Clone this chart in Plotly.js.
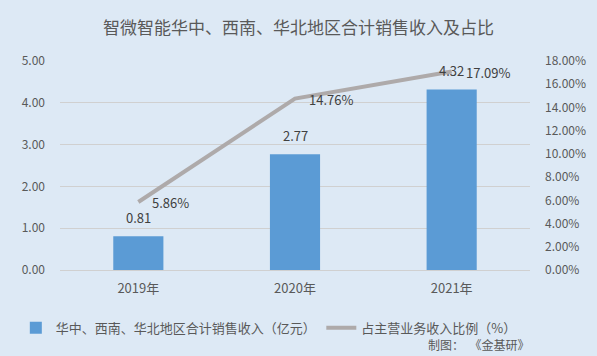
<!DOCTYPE html>
<html><head><meta charset="utf-8">
<script src="https://cdn.plot.ly/plotly-3.0.1.min.js"></script>
<style>html,body{margin:0;padding:0;background:#dde9f5;}#c{width:597px;height:356px;}</style>
</head><body><div id="c"></div>
<script>
const categories = ['2019年', '2020年', '2021年'];
const revenue = [0.81, 2.77, 4.32];
const ratio = [5.86, 14.76, 17.09];
const revenueLabels = ['0.81', '2.77', '4.32'];
const ratioLabels = ['5.86%', '14.76%', '17.09%'];
const leftTicks = [0, 1, 2, 3, 4, 5];
const rightTicks = [0, 2, 4, 6, 8, 10, 12, 14, 16, 18];

const FONT = '"Noto Sans CJK SC", "Noto Sans", sans-serif';
const bar = {
  type: 'bar', x: categories, y: revenue, name: '华中、西南、华北地区合计销售收入（亿元）',
  marker: {color: '#5b9bd5'}, width: 0.32, legend: 'legend',
  text: revenueLabels, textposition: 'none', hoverinfo: 'skip'
};
const line = {
  type: 'scatter', mode: 'lines', x: categories, y: ratio, yaxis: 'y2', legend: 'legend2',
  name: '占主营业务收入比例（%）', line: {color: '#aeaaaa', width: 4}, hoverinfo: 'skip'
};
const annotations = [];
categories.forEach((c, i) => {
  annotations.push({x: c, y: revenue[i], xref: 'x', yref: 'y', text: revenueLabels[i],
    showarrow: false, yanchor: 'bottom', yshift: 7, font: {size: 13, color: '#404040', family: FONT}});
  annotations.push({x: c, y: ratio[i], xref: 'x', yref: 'y2', text: ratioLabels[i],
    showarrow: false, xanchor: 'left', xshift: 12, yshift: -1, font: {size: 13, color: '#404040', family: FONT}});
});
annotations.push({xref: 'paper', yref: 'paper', x: 1.0, y: -0.355, xanchor: 'left', yanchor: 'middle', xshift: -104,
  text: '制图：  《金基研》', showarrow: false, font: {size: 12, color: '#595959', family: FONT}});

const legendBase = {orientation: 'h', yanchor: 'middle', y: -0.277, xanchor: 'left',
  font: {size: 13, color: '#595959', family: FONT}, bgcolor: 'rgba(0,0,0,0)', itemwidth: 30};
const layout = {
  width: 597, height: 356,
  paper_bgcolor: '#dde9f5', plot_bgcolor: '#dde9f5',
  margin: {l: 60, r: 67, t: 61, b: 86},
  font: {family: FONT, color: '#595959', size: 12},
  title: {text: '智微智能华中、西南、华北地区合计销售收入及占比', x: 0.5, xanchor: 'center', y: 0.92, yanchor: 'middle',
    font: {size: 17, color: '#595959', family: FONT}},
  showlegend: true,
  legend: Object.assign({}, legendBase, {x: -0.094}),
  legend2: Object.assign({}, legendBase, {x: 0.556}),
  xaxis: {type: 'category', showgrid: false, zeroline: false, showline: false, ticks: '',
    tickfont: {size: 13, color: '#595959', family: FONT}, ticklabelstandoff: 9},
  yaxis: {range: [0, 5], tickvals: leftTicks, tickformat: '.2f', showgrid: true, gridcolor: '#d0d0d0', gridwidth: 1,
    zeroline: true, zerolinecolor: '#d0d0d0', showline: false, ticks: '',
    tickfont: {size: 12, color: '#595959', family: FONT}, ticklabelstandoff: 14},
  yaxis2: {range: [0, 18], tickvals: rightTicks, ticktext: rightTicks.map(v => v.toFixed(2) + '%'),
    overlaying: 'y', side: 'right', showgrid: false, zeroline: false, showline: false, ticks: '',
    tickfont: {size: 12, color: '#595959', family: FONT}, ticklabelstandoff: 14},
  annotations: annotations,
  bargap: 0.68
};
Plotly.newPlot('c', [bar, line], layout, {staticPlot: true, displayModeBar: false});
</script></body></html>
